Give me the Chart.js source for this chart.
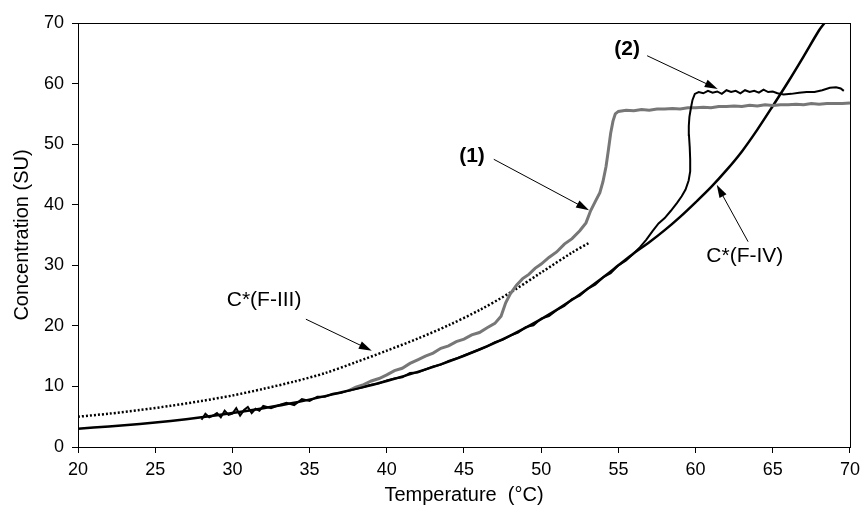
<!DOCTYPE html>
<html>
<head>
<meta charset="utf-8">
<title>Concentration vs temperature</title>
<script src="https://cdn.jsdelivr.net/npm/chart.js@4"></script>
<style>
  html, body { margin: 0; padding: 0; background: #fff; }
  #chart { display: block; }
</style>
</head>
<body>
<canvas id="chart" width="866" height="515"></canvas>
<script>
// -------------------------
// DATA
// -------------------------
// solubility curve C*(F-IV), smooth
const fivX = [20, 22, 24, 26, 28, 30, 32, 34, 36, 38, 40, 42, 44, 46, 48, 50, 52, 54, 55, 56, 57, 58, 59, 60, 61, 62, 63, 64, 65, 66, 67, 68, 68.35];
const fivY = [3.0, 3.4, 3.8, 4.3, 4.9, 5.6, 6.4, 7.3, 8.4, 9.6, 10.9, 12.4, 14.1, 16.1, 18.4, 21.1, 24.3, 28.0, 30.0, 32.0, 33.8, 35.8, 38.0, 40.4, 42.9, 45.7, 48.8, 52.4, 56.3, 60.3, 64.5, 68.8, 70.0];

// solubility curve C*(F-III), dotted
const fiiiX = [20, 22, 24, 26, 28, 30, 32, 34, 36, 38, 40, 42, 44, 46, 48, 50, 52, 53.1];
const fiiiY = [5.0, 5.5, 6.1, 6.8, 7.6, 8.5, 9.6, 10.8, 12.2, 14.0, 15.9, 17.9, 20.1, 22.6, 25.5, 28.8, 32.1, 33.7];

// run (1), grey
const run1X = [37.6, 38.0, 38.5, 39.0, 39.5, 40.0, 40.5, 41.0, 41.5, 42.0, 42.5, 43.0, 43.5, 44.0, 44.5, 45.0, 45.5, 46.0, 46.5, 47.0, 47.4, 47.7, 48.0, 48.4, 48.8, 49.2, 49.6, 50.0, 50.5, 51.0, 51.5, 52.0, 52.5, 52.9, 53.2, 53.5, 53.8, 54.0, 54.2, 54.35, 54.5, 54.65, 54.8, 55.0, 55.5, 56.0, 56.5, 57.0, 57.5, 58.0, 58.5, 59.0, 59.5, 60.0, 60.5, 61.0, 61.5, 62.0, 62.5, 63.0, 63.5, 64.0, 64.5, 65.0, 65.5, 66.0, 66.5, 67.0, 67.5, 68.0, 68.5, 69.0, 69.5, 70.0];
const run1Y = [9.4, 9.9, 10.3, 10.9, 11.3, 11.9, 12.6, 13.0, 13.8, 14.4, 15.0, 15.5, 16.3, 16.7, 17.4, 17.8, 18.5, 18.9, 19.7, 20.4, 21.6, 23.8, 25.3, 26.7, 27.8, 28.5, 29.5, 30.2, 31.3, 32.2, 33.5, 34.4, 35.7, 37.0, 39.0, 40.5, 42.0, 43.8, 46.3, 49.0, 51.8, 53.8, 55.0, 55.4, 55.6, 55.5, 55.7, 55.6, 55.8, 55.8, 55.9, 55.8, 56.0, 56.0, 56.1, 56.0, 56.2, 56.2, 56.3, 56.2, 56.4, 56.3, 56.5, 56.4, 56.5, 56.5, 56.6, 56.5, 56.7, 56.6, 56.7, 56.7, 56.7, 56.8];

// run (2), black
const run2X = [28.0, 28.25, 28.5, 28.75, 29.0, 29.25, 29.5, 29.75, 30.0, 30.25, 30.5, 30.75, 31.0, 31.25, 31.5, 31.75, 32.0, 32.5, 33.0, 33.5, 34.0, 34.5, 35.0, 35.5, 36.0, 36.5, 37.0, 37.5, 38.0, 38.5, 39.0, 39.5, 40.0, 40.5, 41.0, 41.5, 42.0, 42.5, 43.0, 43.5, 44.0, 44.5, 45.0, 45.5, 46.0, 46.5, 47.0, 47.5, 48.0, 48.5, 49.0, 49.5, 50.0, 50.5, 51.0, 51.5, 52.0, 52.5, 53.0, 53.5, 54.0, 54.5, 55.0, 55.5, 56.0, 56.4, 56.8, 57.2, 57.6, 58.0, 58.4, 58.8, 59.1, 59.35, 59.55, 59.65, 59.65, 59.62, 59.57, 59.56, 59.6, 59.7, 59.8, 59.95, 60.2, 60.5, 60.8, 61.1, 61.4, 61.7, 62.0, 62.3, 62.6, 62.9, 63.2, 63.5, 63.8, 64.1, 64.4, 64.7, 65.0, 65.3, 65.7, 66.2, 66.7, 67.2, 67.7, 68.2, 68.7, 69.1, 69.4, 69.6];
const run2Y = [4.5, 5.5, 4.9, 5.2, 5.6, 4.9, 6.0, 5.3, 5.5, 6.4, 5.2, 6.1, 6.6, 5.6, 6.3, 6.0, 6.8, 6.4, 6.9, 7.3, 6.9, 7.9, 7.6, 8.3, 8.3, 8.8, 8.9, 9.3, 9.6, 9.9, 10.3, 10.5, 11.0, 11.3, 11.5, 12.2, 12.3, 12.8, 13.3, 13.6, 14.2, 14.6, 15.1, 15.6, 16.1, 16.6, 17.3, 17.7, 18.4, 18.9, 19.8, 20.1, 21.2, 21.6, 22.6, 23.3, 24.4, 25.0, 26.1, 26.8, 28.0, 28.7, 30.0, 30.8, 32.0, 33.0, 34.2, 35.6, 36.9, 37.8, 39.0, 40.3, 41.4, 42.5, 44.0, 45.5, 47.5, 49.5, 51.5, 53.0, 54.5, 56.0, 57.3, 58.3, 58.6, 58.4, 58.8, 58.5, 58.7, 58.3, 58.9, 58.6, 58.8, 58.4, 58.9, 58.6, 58.8, 58.5, 59.0, 58.6, 58.7, 58.4, 58.2, 58.3, 58.5, 58.6, 58.6, 58.9, 59.3, 59.4, 59.2, 58.8];

// axis ticks
const xTicks = [20, 25, 30, 35, 40, 45, 50, 55, 60, 65, 70];
const yTicks = [0, 10, 20, 30, 40, 50, 60, 70];

// text labels: [text, x, y, bold]
const labels = [
  ["(1)", 45.52, 48.0, true],
  ["(2)", 55.57, 65.7, true],
  ["C*(F-III)", 32.05, 24.3, false],
  ["C*(F-IV)", 63.19, 31.5, false]
];
// arrows: [fromX, fromY, toX, toY]
const arrows = [
  [46.93, 47.5, 53.1, 39.1],
  [56.86, 64.6, 61.43, 59.1],
  [34.76, 21.1, 39.03, 15.9],
  [63.4, 33.9, 61.37, 43.3]
];

// -------------------------
// Helpers
// -------------------------
const FONT = "'Liberation Sans', Arial, sans-serif";
const pts = (xs, ys) => xs.map((x, i) => ({ x: x, y: ys[i] }));

const boxPlugin = {
  id: 'box',
  afterDraw(chart) {
    const { ctx, chartArea: a, scales } = chart;
    ctx.save();
    ctx.strokeStyle = '#000';
    ctx.lineWidth = 1;
    ctx.strokeRect(a.left + 0.5, a.top + 0.5, a.right - a.left, a.bottom - a.top);

    // arrows
    arrows.forEach(([x1, y1, x2, y2]) => {
      const px1 = scales.x.getPixelForValue(x1), py1 = scales.y.getPixelForValue(y1);
      const px2 = scales.x.getPixelForValue(x2), py2 = scales.y.getPixelForValue(y2);
      const ang = Math.atan2(py2 - py1, px2 - px1);
      const len = 13, half = 4;
      ctx.beginPath();
      ctx.moveTo(px1, py1);
      ctx.lineTo(px2 - Math.cos(ang) * len * 0.8, py2 - Math.sin(ang) * len * 0.8);
      ctx.stroke();
      ctx.beginPath();
      ctx.moveTo(px2, py2);
      ctx.lineTo(px2 - Math.cos(ang) * len - Math.sin(ang) * half, py2 - Math.sin(ang) * len + Math.cos(ang) * half);
      ctx.lineTo(px2 - Math.cos(ang) * len + Math.sin(ang) * half, py2 - Math.sin(ang) * len - Math.cos(ang) * half);
      ctx.closePath();
      ctx.fillStyle = '#000';
      ctx.fill();
    });

    // labels
    ctx.textAlign = 'center';
    ctx.textBaseline = 'middle';
    ctx.fillStyle = '#000';
    labels.forEach(([t, x, y, bold]) => {
      ctx.font = (bold ? 'bold 21px ' : '21px ') + FONT;
      ctx.fillText(t, scales.x.getPixelForValue(x), scales.y.getPixelForValue(y));
    });
    ctx.restore();
  }
};

// -------------------------
// Chart
// -------------------------
const ctx = document.getElementById('chart').getContext('2d');
new Chart(ctx, {
  type: 'line',
  data: {
    datasets: [
      { label: 'C*(F-III)', data: pts(fiiiX, fiiiY), borderColor: '#000', borderWidth: 2.5, borderDash: [2, 2], pointRadius: 0, tension: 0.3, order: 3 },
      { label: 'C*(F-IV)', data: pts(fivX, fivY), borderColor: '#000', borderWidth: 2.5, pointRadius: 0, tension: 0.3, order: 4 },
      { label: '(1)', data: pts(run1X, run1Y), borderColor: '#777777', borderWidth: 3, pointRadius: 0, tension: 0, order: 2 },
      { label: '(2)', data: pts(run2X, run2Y), borderColor: '#000', borderWidth: 2, pointRadius: 0, tension: 0, order: 1 }
    ]
  },
  options: {
    responsive: false,
    animation: false,
    devicePixelRatio: 1,
    layout: { padding: { top: 23, right: 12, left: 0, bottom: 0 } },
    plugins: { legend: { display: false }, tooltip: { enabled: false } },
    scales: {
      x: {
        type: 'linear', min: 20, max: 70,
        afterBuildTicks: s => { s.ticks = xTicks.map(v => ({ value: v })); },
        afterFit: s => { s.height = 68; },
        grid: { drawOnChartArea: false, drawTicks: true, tickLength: 6, color: '#000' },
        border: { display: true, color: '#000', width: 1 },
        ticks: { color: '#000', font: { family: FONT, size: 18 }, padding: 6, maxRotation: 0 },
        title: { display: true, text: 'Temperature  (°C)', color: '#000', font: { family: FONT, size: 20 }, padding: { top: 0, bottom: 8 } }
      },
      y: {
        type: 'linear', min: 0, max: 70,
        afterBuildTicks: s => { s.ticks = yTicks.map(v => ({ value: v })); },
        afterFit: s => { s.width = 78; },
        grid: { drawOnChartArea: false, drawTicks: true, tickLength: 6, color: '#000' },
        border: { display: true, color: '#000', width: 1 },
        ticks: { color: '#000', font: { family: FONT, size: 18 }, padding: 8 },
        title: { display: true, text: 'Concentration (SU)', color: '#000', font: { family: FONT, size: 20 }, padding: { top: 10, bottom: 0 } }
      }
    }
  },
  plugins: [boxPlugin]
});
</script>
</body>
</html>
